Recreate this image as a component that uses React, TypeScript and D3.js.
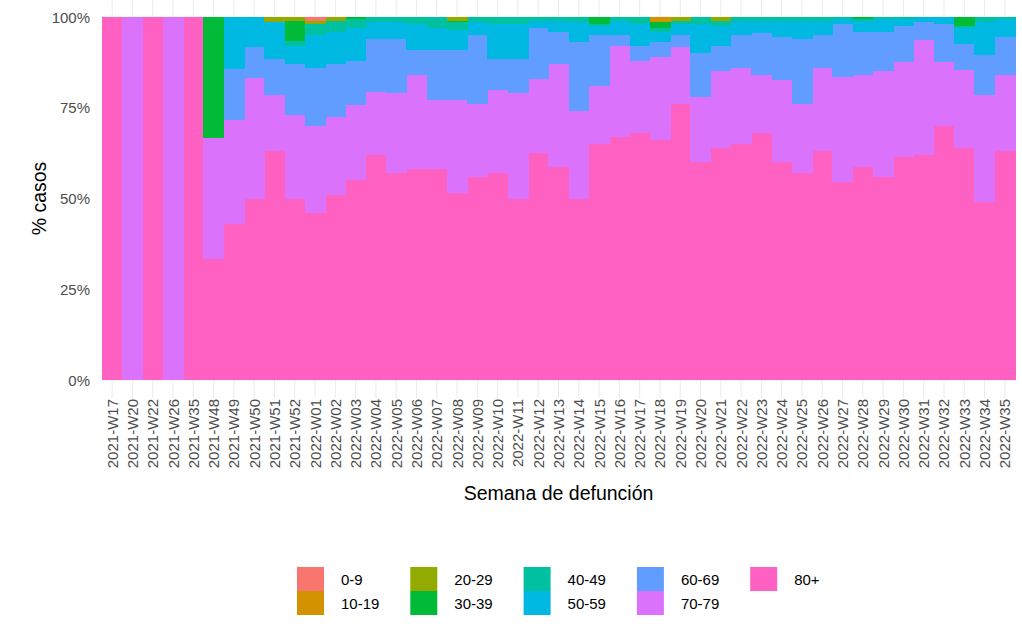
import React from "react";
import * as d3 from "d3";

const categories = [
  "2021-W17","2021-W20","2021-W22","2021-W26","2021-W35","2021-W48","2021-W49","2021-W50","2021-W51","2021-W52",
  "2022-W01","2022-W02","2022-W03","2022-W04","2022-W05","2022-W06","2022-W07","2022-W08","2022-W09","2022-W10",
  "2022-W11","2022-W12","2022-W13","2022-W14","2022-W15","2022-W16","2022-W17","2022-W18","2022-W19","2022-W20",
  "2022-W21","2022-W22","2022-W23","2022-W24","2022-W25","2022-W26","2022-W27","2022-W28","2022-W29","2022-W30",
  "2022-W31","2022-W32","2022-W33","2022-W34","2022-W35",
];

const ageGroups = ["0-9","10-19","20-29","30-39","40-49","50-59","60-69","70-79","80+"];
const ageColors = ["#F8766D","#D39200","#93AA00","#00BA38","#00C19F","#00B9E3","#619CFF","#DB72FB","#FF61C3"];

const a80 = [100,0,100,0,100,33.3,42.9,50,63,50,46,51,55,62,57,58,58,51.5,56,57,50,62.5,58.7,50,65,67,68,66,76,60,64,65,68,60,57,63,54.5,58.7,56,61.5,62,70,64,49,63];
const a70 = [0,100,0,100,0,33.3,28.6,33.3,15.5,23,24,21.5,20.7,17.3,22,26,19,25.5,20,23,29,20.5,28.3,24,16,25,20,23,15.7,18,21,21,16,22.6,19,23,29,25.3,29,26.1,31.6,17.6,21.4,29.5,21];
const a60 = [0,0,0,0,0,0,14.3,8.3,10,14,16,14.5,12.3,14.7,15,7,14,14,19,8.4,9.4,14,9,19,14,3,4,4,3.3,12,7,9,11.6,11.9,18,9,14.5,12,11,9.9,4.9,10.4,7.1,11,10.5];
const a50 = [0,0,0,0,0,0,14.2,8.4,10,5,9,9,9,4.5,4.5,7,6,5.5,3.5,9.6,9.6,2,3,5.5,2.5,4,6,3,3,8,5.5,4,3.4,4.5,5,4,1.5,3,3.5,2,1.5,2,4.5,9,5];
const a40 = [0,0,0,0,0,0,0,0,0,1.5,3,3,2.5,1.5,1.5,2,3,2,1.5,2,2,1,1,1.5,0.5,1,2,1,1,2,1.5,1,1,1,1,1,0.5,0.5,0.5,0.5,0,0,0.5,1.5,0.5];
const a30 = [0,0,0,0,0,33.4,0,0,0,5.5,0,0,0.5,0,0,0,0,0.5,0,0,0,0,0,0,2,0,0,1.5,0,0,0,0,0,0,0,0,0,0.5,0,0,0,0,2.5,0,0];
const a20 = [0,0,0,0,0,0,0,0,1.5,1,1,1,0,0,0,0,0,1,0,0,0,0,0,0,0,0,0,0,1,0,1,0,0,0,0,0,0,0,0,0,0,0,0,0,0];
const a10 = [0,0,0,0,0,0,0,0,0,0,0,0,0,0,0,0,0,0,0,0,0,0,0,0,0,0,0,1.5,0,0,0,0,0,0,0,0,0,0,0,0,0,0,0,0,0];
const a0 = [0,0,0,0,0,0,0,0,0,0,1,0,0,0,0,0,0,0,0,0,0,0,0,0,0,0,0,0,0,0,0,0,0,0,0,0,0,0,0,0,0,0,0,0,0];

const seriesValues = [a0, a10, a20, a30, a40, a50, a60, a70, a80];
const yTicks = [0, 0.25, 0.5, 0.75, 1];
const yTickLabels = ["0%", "25%", "50%", "75%", "100%"];

const W = 1022;
const H = 641;
const FONT = "'Liberation Sans', Arial, Helvetica, sans-serif";

export default function App() {
  const left = 102, right = 1015, top = 17, bottom = 380;
  const x = d3.scaleBand<string>().domain(categories).range([left, right]).padding(0);
  const y = d3.scaleLinear().domain([0, 1]).range([bottom, top]);
  const expandY = (bottom - top) * 0.05;

  const rows = categories.map((c, i) => {
    const r: any = { cat: c };
    ageGroups.forEach((g, k) => (r[g] = seriesValues[k][i]));
    return r;
  });
  const stackKeys = [...ageGroups].reverse(); // 80+ at the bottom
  const stacked = d3.stack<any>().keys(stackKeys).offset(d3.stackOffsetExpand)(rows);
  const colorOf = (g: string) => ageColors[ageGroups.indexOf(g)];

  const legX0 = 297, legColW = 113.3, legY0 = 567, keyW = 27, keyH = 24;

  return (
    <svg width={W} height={H} style={{ position: "absolute", left: 0, top: 0, background: "#fff" }} fontFamily={FONT}>
      <rect width={W} height={H} fill="#fff" />
      {yTicks.map((t) => (
        <line key={"gy" + t} x1={left} x2={right} y1={y(t)} y2={y(t)} stroke="#EBEBEB" strokeWidth={1} />
      ))}
      {categories.map((c) => (
        <line key={"gx" + c} x1={x(c)! + x.bandwidth() / 2} x2={x(c)! + x.bandwidth() / 2}
          y1={top - expandY} y2={bottom + expandY} stroke="#EBEBEB" strokeWidth={1} />
      ))}
      <g shapeRendering="crispEdges">
        {stacked.map((s) => (
          <g key={s.key} fill={colorOf(s.key)}>
            {s.map((d, i) => {
              const y0 = y(d[0]), y1 = y(d[1]);
              if (Math.abs(y0 - y1) < 0.01) return null;
              return (
                <rect key={i} x={x(categories[i])!} width={x.bandwidth() + 0.5} y={y1} height={y0 - y1} />
              );
            })}
          </g>
        ))}
      </g>
      {yTicks.map((t, i) => (
        <text key={"yl" + t} x={90} y={y(t)} textAnchor="end" dominantBaseline="central" fontSize={15} fill="#4D4D4D">
          {yTickLabels[i]}
        </text>
      ))}
      {categories.map((c) => {
        const cx = x(c)! + x.bandwidth() / 2;
        return (
          <text key={"xl" + c} transform={`translate(${cx},${399}) rotate(-90)`} textAnchor="end"
            dominantBaseline="central" fontSize={15} fill="#4D4D4D">
            {c}
          </text>
        );
      })}
      <text transform={`translate(39,${(top + bottom) / 2}) rotate(-90)`} textAnchor="middle" dominantBaseline="central"
        fontSize={19.5} fill="#000">% casos</text>
      <text x={(left + right) / 2} y={493} textAnchor="middle" dominantBaseline="central" fontSize={19.5} fill="#000">
        Semana de defunción
      </text>
      {ageGroups.map((g, k) => {
        const col = Math.floor(k / 2);
        const row = k % 2;
        const gx = legX0 + col * legColW;
        const gy = legY0 + row * keyH;
        return (
          <g key={"lg" + g}>
            <rect x={gx} y={gy} width={keyW} height={keyH} fill={ageColors[k]} />
            <text x={gx + keyW + 17} y={gy + keyH / 2} dominantBaseline="central" fontSize={15} fill="#000">{g}</text>
          </g>
        );
      })}
    </svg>
  );
}
